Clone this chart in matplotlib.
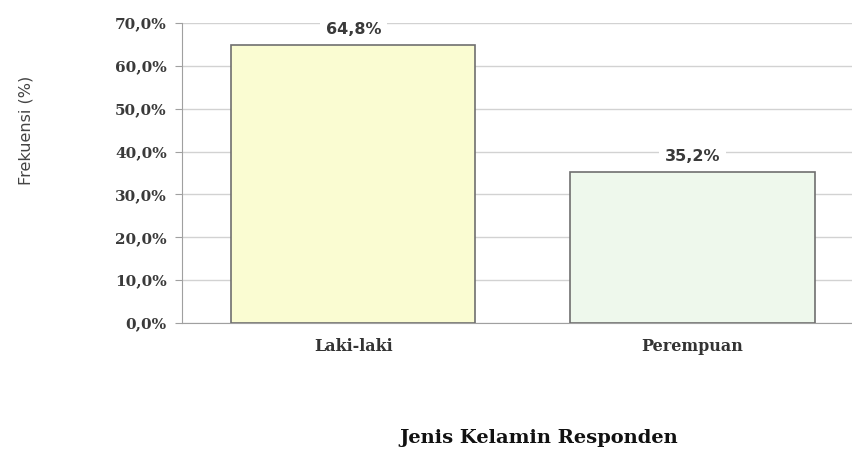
import matplotlib
matplotlib.use("Agg")
import matplotlib.pyplot as plt
from matplotlib.ticker import FuncFormatter, MultipleLocator

categories = ["Laki-laki", "Perempuan"]
values = [64.8, 35.2]
bar_colors = ["#FAFCD2", "#EEF8EC"]
value_labels = ["64,8%", "35,2%"]

fig = plt.figure(figsize=(8.52, 4.51), dpi=100)
ax = fig.add_axes([182/852, 1 - 323/451, (852-182)/852, 300/451])

x = list(range(len(categories)))
ax.bar(x, values, width=0.72, color=bar_colors, edgecolor="#6f6f6f", linewidth=1.2, zorder=3)

ax.set_ylim(0, 70)
ax.set_xlim(-0.505, 1.47)
ax.yaxis.set_major_locator(MultipleLocator(10))
ax.yaxis.set_major_formatter(FuncFormatter(lambda v, p: f"{v:.1f}%".replace(".", ",")))
ax.grid(axis="y", color="#d2d2d2", linewidth=1.0, zorder=0)
for s in ["top", "right"]:
    ax.spines[s].set_visible(False)
ax.spines["left"].set_color("#a0a0a0")
ax.spines["bottom"].set_color("#a0a0a0")
ax.tick_params(axis="y", length=5, color="#a0a0a0", pad=6)
ax.tick_params(axis="x", length=0, pad=11)
ax.set_xticks(x)
ax.set_xticklabels(categories, fontfamily="DejaVu Serif", fontsize=11.5, fontweight="bold", color="#333333")
for lab in ax.get_yticklabels():
    lab.set_fontfamily("DejaVu Serif")
    lab.set_fontsize(11)
    lab.set_fontweight("bold")
    lab.set_color("#3a3a3a")

for xi, v, t in zip(x, values, value_labels):
    ax.text(xi, v + 3.7, t, ha="center", va="center", fontsize=11.5, fontweight="bold",
            fontfamily="DejaVu Sans", color="#3a3a3a",
            bbox=dict(facecolor="white", edgecolor="none", pad=4), zorder=4)

fig.text(26/852, 1 - 130/451, "Frekuensi (%)", rotation=90, ha="center", va="center",
         fontsize=11.5, fontfamily="DejaVu Sans", color="#444444")
fig.text(539/852, 1 - 438/451, "Jenis Kelamin Responden", ha="center", va="center",
         fontsize=14, fontweight="bold", fontfamily="DejaVu Serif", color="#111111")

fig.savefig("out.png", dpi=100)
